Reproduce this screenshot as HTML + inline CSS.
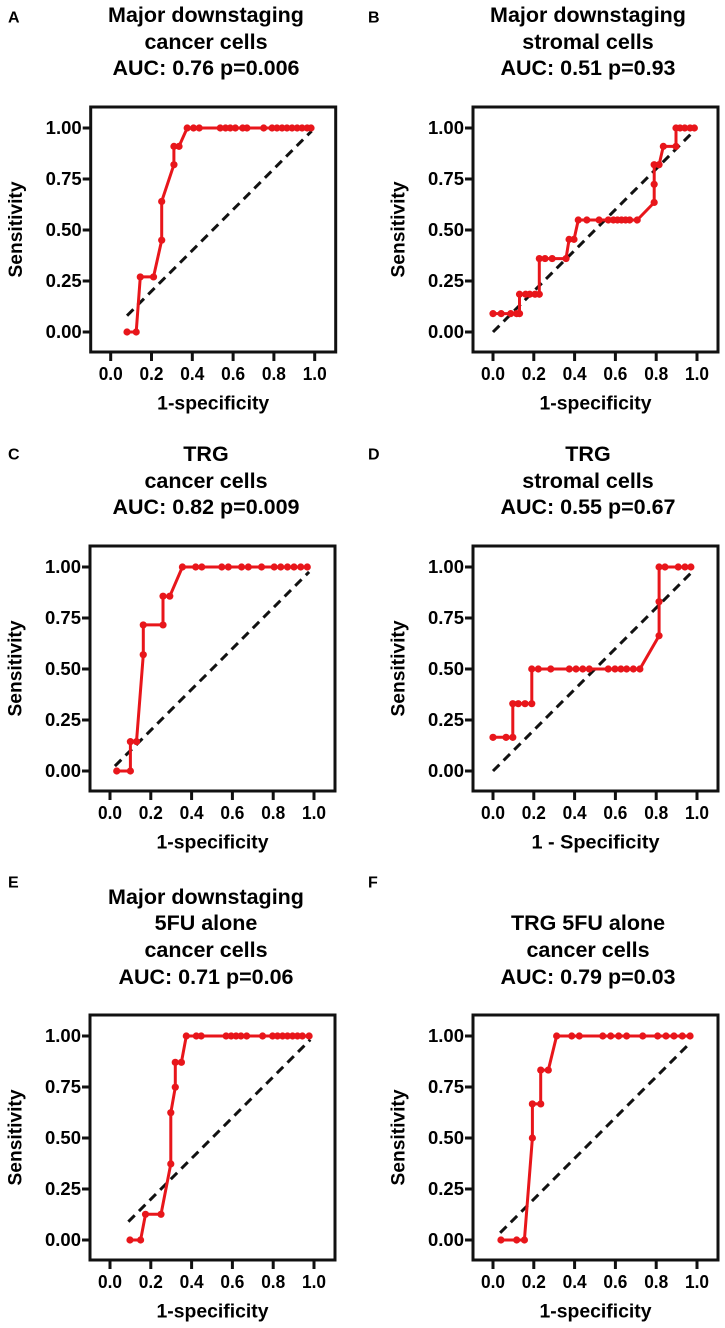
<!DOCTYPE html>
<html><head><meta charset="utf-8">
<style>
html,body{margin:0;padding:0;background:#fff;}
svg{display:block;font-family:"Liberation Sans",Arial,sans-serif;font-weight:bold;}
</style></head>
<body>
<svg id="fig" width="725" height="1328" viewBox="0 0 725 1328" xmlns="http://www.w3.org/2000/svg"></svg>
<script>
// ---- data arrays ----
const xTicks = [0, 0.2, 0.4, 0.6, 0.8, 1.0];
const xTickLabels = ["0.0","0.2","0.4","0.6","0.8","1.0"];
const yTicks = [0, 0.25, 0.5, 0.75, 1.0];
const yTickLabels = ["0.00","0.25","0.50","0.75","1.00"];

const aX = [0.08,0.125,0.145,0.21,0.25,0.25,0.31,0.31,0.335,0.375,0.406,0.434,0.537,0.563,0.586,0.611,0.647,0.668,0.750,0.791,0.815,0.840,0.864,0.889,0.914,0.938,0.963,0.982];
const aY = [0,0,0.27,0.27,0.45,0.64,0.82,0.91,0.91,1,1,1,1,1,1,1,1,1,1,1,1,1,1,1,1,1,1,1];
const aDiag = [0.08,0.985];

const bX = [0,0.04,0.087,0.116,0.13,0.13,0.16,0.18,0.206,0.227,0.227,0.255,0.29,0.358,0.373,0.397,0.418,0.46,0.52,0.565,0.59,0.61,0.63,0.65,0.67,0.707,0.79,0.79,0.79,0.814,0.835,0.897,0.897,0.917,0.94,0.966,0.987];
const bY = [0.09,0.09,0.09,0.09,0.09,0.185,0.185,0.185,0.185,0.185,0.36,0.36,0.36,0.36,0.454,0.454,0.549,0.549,0.549,0.549,0.549,0.549,0.549,0.549,0.549,0.549,0.635,0.724,0.82,0.82,0.91,0.91,1,1,1,1,1];
const bDiag = [0,0.987];

const cX = [0.033,0.1,0.1,0.13,0.163,0.163,0.26,0.26,0.293,0.355,0.42,0.45,0.548,0.58,0.645,0.678,0.743,0.805,0.837,0.87,0.902,0.935,0.967];
const cY = [0,0,0.144,0.144,0.57,0.716,0.716,0.857,0.857,1,1,1,1,1,1,1,1,1,1,1,1,1,1];
const cDiag = [0.024,0.976];

const dX = [0,0.064,0.097,0.097,0.124,0.157,0.19,0.19,0.222,0.283,0.374,0.407,0.44,0.472,0.565,0.598,0.627,0.655,0.688,0.72,0.814,0.814,0.814,0.843,0.908,0.941,0.97];
const dY = [0.165,0.165,0.165,0.33,0.33,0.33,0.33,0.5,0.5,0.5,0.5,0.5,0.5,0.5,0.5,0.5,0.5,0.5,0.5,0.5,0.663,0.83,1,1,1,1,1];
const dDiag = [0,0.968];

const eX = [0.098,0.15,0.174,0.25,0.298,0.298,0.32,0.32,0.35,0.374,0.423,0.447,0.569,0.594,0.618,0.642,0.67,0.748,0.797,0.821,0.846,0.87,0.895,0.919,0.943,0.976];
const eY = [0,0,0.126,0.126,0.373,0.624,0.749,0.871,0.871,1,1,1,1,1,1,1,1,1,1,1,1,1,1,1,1,1];
const eDiag = [0.09,0.982];

const fX = [0.039,0.116,0.154,0.193,0.193,0.234,0.234,0.271,0.312,0.386,0.423,0.538,0.577,0.616,0.655,0.734,0.807,0.848,0.887,0.928,0.966];
const fY = [0,0,0,0.5,0.667,0.667,0.833,0.833,1,1,1,1,1,1,1,1,1,1,1,1,1];
const fDiag = [0.035,0.965];

// ---- layout (not data) ----
const panels = [
 {id:"a", letter:"A", xs:aX, ys:aY, diag:aDiag, ox:110.7, oy:332, tx:206, titles:["Major downstaging","cancer cells","AUC: 0.76 p=0.006"], ty:[15,42,68], lx:8, ly:18, xl:"1-specificity"},
 {id:"b", letter:"B", xs:bX, ys:bY, diag:bDiag, ox:493, oy:332, tx:588, titles:["Major downstaging","stromal cells","AUC: 0.51 p=0.93"], ty:[15,42,68], lx:368, ly:18, xl:"1-specificity"},
 {id:"c", letter:"C", xs:cX, ys:cY, diag:cDiag, ox:110, oy:771, tx:206, titles:["TRG","cancer cells","AUC: 0.82 p=0.009"], ty:[454,481,507], lx:8, ly:455, xl:"1-specificity"},
 {id:"d", letter:"D", xs:dX, ys:dY, diag:dDiag, ox:493, oy:771, tx:588, titles:["TRG","stromal cells","AUC: 0.55 p=0.67"], ty:[454,481,507], lx:368, ly:455, xl:"1 - Specificity"},
 {id:"e", letter:"E", xs:eX, ys:eY, diag:eDiag, ox:110, oy:1240, tx:206, titles:["Major downstaging","5FU alone","cancer cells","AUC: 0.71 p=0.06"], ty:[897,923,950,977], lx:8, ly:883, xl:"1-specificity"},
 {id:"f", letter:"F", xs:fX, ys:fY, diag:fDiag, ox:493, oy:1240, tx:588, titles:["TRG 5FU alone","cancer cells","AUC: 0.79 p=0.03"], ty:[923,950,977], lx:368, ly:883, xl:"1-specificity"}
];
const S = 204;
const NS = "http://www.w3.org/2000/svg";
const svg = document.getElementById("fig");
function mk(tag, attrs, parent){
  const e = document.createElementNS(NS, tag);
  for (const k in attrs) e.setAttribute(k, attrs[k]);
  (parent||svg).appendChild(e);
  return e;
}
panels.forEach(p => {
  const g = mk("g", {});
  
  
  const sx = v => p.ox + v * S;
  const sy = v => p.oy - v * S;
  const L = mk("text", {x:p.lx, y:p.ly, "font-size":16, "dominant-baseline":"central"}, g);
  L.textContent = p.letter;
  
  
  p.titles.forEach((t,i) => {
    const T = mk("text", {x:p.tx, y:p.ty[i], "font-size":21.5, "text-anchor":"middle", "dominant-baseline":"central"}, g);
    T.textContent = t;
    
    
  });
  const fx0 = sx(0) - 20, fx1 = sx(1) + 21, fy0 = sy(1) - 21, fy1 = sy(0) + 20;
  const F = mk("rect", {x:fx0, y:fy0, width:fx1-fx0, height:fy1-fy0, fill:"none", stroke:"#111", "stroke-width":3}, g);
  
  
  yTicks.forEach((v,i) => {
    const tk = mk("line", {x1:fx0-8, x2:fx0, y1:sy(v), y2:sy(v), stroke:"#111", "stroke-width":3}, g);
    
    
    const tl = mk("text", {x:fx0-45, y:sy(v), "font-size":18, "text-anchor":"start", "dominant-baseline":"central", textLength:36, lengthAdjust:"spacingAndGlyphs"}, g);
    tl.textContent = yTickLabels[i];
    
    
  });
  xTicks.forEach((v,i) => {
    const tk = mk("line", {x1:sx(v), x2:sx(v), y1:fy1, y2:fy1+9, stroke:"#111", "stroke-width":3}, g);
    
    
    const tl = mk("text", {x:sx(v)-12, y:fy1+22, "font-size":18, "text-anchor":"start", "dominant-baseline":"central", textLength:24, lengthAdjust:"spacingAndGlyphs"}, g);
    tl.textContent = xTickLabels[i];
    
    
  });
  const xlLen = p.xl.length > 13 ? 128 : 112;
  const xt = mk("text", {x:(fx0+fx1)/2 - xlLen/2, y:fy1+52, "font-size":19, "text-anchor":"start", "dominant-baseline":"central", textLength:xlLen, lengthAdjust:"spacingAndGlyphs"}, g);
  xt.textContent = p.xl;
  
  
  const yx = fx0 - 74, yy = (fy0+fy1)/2;
  const yt = mk("text", {x:yx - 48, y:yy, "font-size":19, "text-anchor":"start", "dominant-baseline":"central", textLength:96, lengthAdjust:"spacingAndGlyphs", transform:`rotate(-90 ${yx} ${yy})`}, g);
  yt.textContent = "Sensitivity";
  
  
  const dg = mk("line", {x1:sx(p.diag[0]), y1:sy(p.diag[0]), x2:sx(p.diag[1]), y2:sy(p.diag[1]), stroke:"#111", "stroke-width":3, "stroke-dasharray":"9,6"}, g);
  
  
  const pts = p.xs.map((x,i) => sx(x).toFixed(1)+","+sy(p.ys[i]).toFixed(1)).join(" ");
  const pl = mk("polyline", {points:pts, fill:"none", stroke:"#e8161b", "stroke-width":3, "stroke-linejoin":"round"}, g);
  
  
  p.xs.forEach((x,i) => {
    const c = mk("circle", {cx:sx(x), cy:sy(p.ys[i]), r:3.6, fill:"#e8161b"}, g);
    
    
  });
});
</script>
</body></html>
